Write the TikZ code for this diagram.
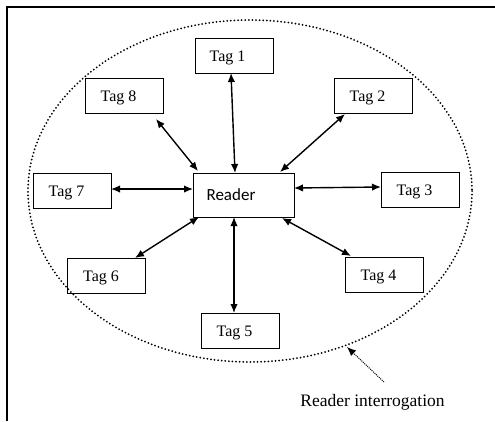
\documentclass[tikz,border=0pt]{standalone}
\usepackage{fontspec}
\setmainfont{Liberation Serif}
\newfontfamily\readerfont{Carlito}
\usetikzlibrary{arrows.meta}
\begin{document}
\begin{tikzpicture}[x=1pt,y=-1pt,
  tagbox/.style={draw, line width=1pt, minimum width=78pt, minimum height=35pt,
    inner sep=0pt, text height=11pt, text depth=-3pt, font=\fontsize{16}{18}\selectfont},
  link/.style={line width=1.4pt, {Latex[length=9pt,width=7.5pt]}-{Latex[length=9pt,width=7.5pt]}},
  pointer/.style={line width=1pt, dash pattern=on 1pt off 1pt, -{Latex[length=9pt,width=7.5pt]}},
  zone/.style={line width=2pt, dash pattern=on 0pt off 3.6pt, line cap=round}]
\useasboundingbox (0,0) rectangle (495,421);
% frame on the left and top
\draw[line width=2pt] (7,421) -- (7,7) -- (495,7);
% interrogation zone
\draw[zone] (250,191) ellipse [x radius=222, y radius=171];
% reader and tags
\node[draw, line width=1pt, minimum width=101pt, minimum height=44pt, inner sep=0pt,
  font=\readerfont\fontsize{17}{19}\selectfont] (reader) at (243.5,195) {\hspace*{-25pt}Reader};
\node[tagbox] (t1) at (234.5,56) {\hspace*{-14pt}Tag 1};
\node[tagbox] (t2) at (373,95.5) {\hspace*{-11pt}Tag 2};
\node[tagbox] (t3) at (420,189.5) {\hspace*{-11pt}Tag 3};
\node[tagbox] (t4) at (384,275) {\hspace*{-11pt}Tag 4};
\node[tagbox] (t5) at (240,330.5) {\hspace*{-11pt}Tag 5};
\node[tagbox] (t6) at (106.5,276) {\hspace*{-11pt}Tag 6};
\node[tagbox] (t7) at (72,190.5) {\hspace*{-11pt}Tag 7};
\node[tagbox] (t8) at (124,95.5) {\hspace*{-11pt}Tag 8};
% reader-to-tag links
\coordinate (r1) at (235,173); \coordinate (e1) at (231,73);
\coordinate (r2) at (280,172); \coordinate (e2) at (345,114);
\coordinate (r3) at (294,188); \coordinate (e3) at (381,187);
\coordinate (r4) at (282,218); \coordinate (e4) at (351,256);
\coordinate (r5) at (234,217); \coordinate (e5) at (234,313);
\coordinate (r6) at (199,217); \coordinate (e6) at (135,258);
\coordinate (r7) at (193,189); \coordinate (e7) at (111,189);
\coordinate (r8) at (198,171); \coordinate (e8) at (156,119);
\foreach \i in {1,...,8} \draw[link] (r\i) -- (e\i);
% label of the zone
\node[font=\fontsize{17.5}{20}\selectfont, anchor=base] (lbl) at (372.5,406) {Reader interrogation};
\coordinate (ltail) at (384,382);
\coordinate (ltip) at (347,347);
\draw[pointer] (ltail) -- (ltip);
\end{tikzpicture}
\end{document}
